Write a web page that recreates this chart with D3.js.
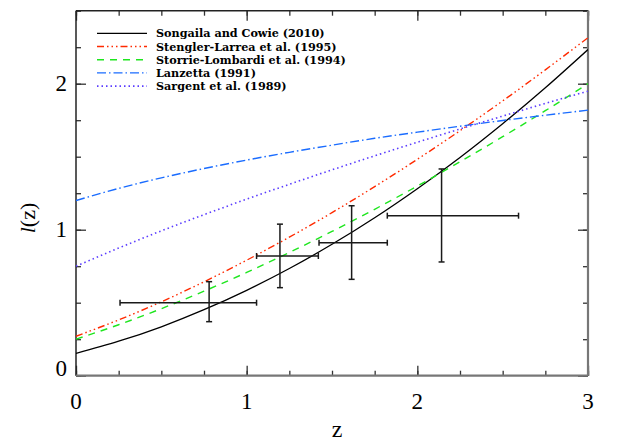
<!DOCTYPE html>
<html>
<head>
<meta charset="utf-8">
<script src="https://cdn.jsdelivr.net/npm/d3@7"></script>
<style>
  body { margin: 0; background: #fff; }
  svg { display: block; }
</style>
</head>
<body>
<script>
var zGrid = [0, 0.25, 0.5, 0.75, 1, 1.25, 1.5, 1.75, 2, 2.25, 2.5, 2.75, 3];

var songaila = [0.153, 0.236, 0.335, 0.452, 0.585, 0.734, 0.900, 1.082, 1.281, 1.495, 1.726, 1.972, 2.234];
var stengler = [0.270, 0.382, 0.506, 0.643, 0.791, 0.949, 1.117, 1.295, 1.482, 1.678, 1.882, 2.095, 2.315];
var storrie  = [0.250, 0.349, 0.459, 0.579, 0.707, 0.844, 0.988, 1.140, 1.299, 1.465, 1.637, 1.815, 2.000];
var lanzetta = [1.200, 1.283, 1.355, 1.419, 1.477, 1.530, 1.579, 1.626, 1.668, 1.709, 1.748, 1.784, 1.819];
var sargent  = [0.750, 0.874, 0.992, 1.103, 1.209, 1.311, 1.410, 1.506, 1.599, 1.690, 1.778, 1.865, 1.949];

var legendNames = ["Songaila and Cowie (2010)", "Stengler-Larrea et al. (1995)",
  "Storrie-Lombardi et al. (1994)", "Lanzetta (1991)", "Sargent et al. (1989)"];

// binned data points with error bars
var ptZ   = [0.780, 1.195, 1.615, 2.142];
var ptL   = [0.500, 0.820, 0.911, 1.096];
var ptZlo = [0.258, 1.058, 1.424, 1.824];
var ptZhi = [1.058, 1.420, 1.824, 2.593];
var ptLlo = [0.370, 0.603, 0.660, 0.779];
var ptLhi = [0.644, 1.038, 1.164, 1.416];

var xMajor = [0, 1, 2, 3];
var yMajor = [0, 1, 2];

var SERIF = "'Liberation Serif', 'Times New Roman', serif";
var LEGFONT = "'DejaVu Serif', 'Liberation Serif', serif";

var width = 618, height = 441;
var svg = d3.select("body").append("svg")
  .attr("width", width)
  .attr("height", height);

var x = d3.scaleLinear().domain([0, 3]).range([76, 588]);
var y = d3.scaleLinear().domain([0, 2.5]).range([375.7, 10.7]);

var minorX = d3.range(0, 3.001, 0.25);
var minorY = d3.range(0, 2.501, 0.25);

// ticks (inward on all four sides)
function tickAxis(axis, vals, size, tr) {
  var g = svg.append("g").attr("transform", tr)
    .call(axis.tickValues(vals).tickSize(size).tickFormat(""));
  g.select(".domain").remove();
  g.selectAll("line").attr("stroke", "#333").attr("stroke-width", 1.3);
}
tickAxis(d3.axisBottom(x), minorX, -5, "translate(0," + y(0) + ")");
tickAxis(d3.axisBottom(x), xMajor, -10, "translate(0," + y(0) + ")");
tickAxis(d3.axisTop(x), minorX, -5, "translate(0," + y(2.5) + ")");
tickAxis(d3.axisTop(x), xMajor, -10, "translate(0," + y(2.5) + ")");
tickAxis(d3.axisLeft(y), minorY, -5, "translate(" + x(0) + ",0)");
tickAxis(d3.axisLeft(y), yMajor, -10, "translate(" + x(0) + ",0)");
tickAxis(d3.axisRight(y), minorY, -5, "translate(" + x(3) + ",0)");
tickAxis(d3.axisRight(y), yMajor, -10, "translate(" + x(3) + ",0)");

// frame
svg.append("line").attr("x1", x(0)).attr("x2", x(3)).attr("y1", y(2.5)).attr("y2", y(2.5))
  .attr("stroke", "#222").attr("stroke-width", 1.5);
svg.append("line").attr("x1", x(0)).attr("x2", x(0)).attr("y1", y(2.5)).attr("y2", y(0))
  .attr("stroke", "#222").attr("stroke-width", 1.5);
svg.append("line").attr("x1", x(0)).attr("x2", x(3)).attr("y1", y(0)).attr("y2", y(0))
  .attr("stroke", "#777").attr("stroke-width", 2.2);
svg.append("line").attr("x1", x(3)).attr("x2", x(3)).attr("y1", y(2.5)).attr("y2", y(0))
  .attr("stroke", "#777").attr("stroke-width", 2.2);

// tick labels
svg.selectAll(".xl").data(xMajor).enter().append("text")
  .style("font-family", SERIF)
  .attr("x", function(d) { return x(d); })
  .attr("y", 409)
  .attr("text-anchor", "middle")
  .attr("font-size", 23)
  .text(function(d) { return d; });

svg.selectAll(".yl").data(yMajor).enter().append("text")
  .style("font-family", SERIF)
  .attr("x", 67)
  .attr("y", function(d) { return d === 0 ? y(d) : y(d) + 7.5; })
  .attr("text-anchor", "end")
  .attr("font-size", 23)
  .text(function(d) { return d; });

// axis titles
svg.append("text")
  .style("font-family", SERIF)
  .attr("x", 337).attr("y", 437)
  .attr("text-anchor", "middle")
  .attr("font-size", 24)
  .text("z");

var yt = svg.append("text")
  .style("font-family", SERIF)
  .attr("transform", "translate(35,218) rotate(-90)")
  .attr("text-anchor", "middle")
  .attr("font-size", 22);
yt.append("tspan").attr("font-style", "italic").text("l");
yt.append("tspan").text("(z)");

// model curves
var series = [
  { vals: songaila, color: "#000000", dash: null, w: 1.3 },
  { vals: stengler, color: "#ff2a00", dash: "7,3,1.5,3,1.5,3,1.5,3", w: 1.4 },
  { vals: storrie,  color: "#1ee61e", dash: "7,6", w: 1.4 },
  { vals: lanzetta, color: "#1a6cff", dash: "9,3,1.5,3", w: 1.4 },
  { vals: sargent,  color: "#5a3cff", dash: "1.5,3", w: 1.6 }
];

var line = d3.line()
  .x(function(d, i) { return x(zGrid[i]); })
  .y(function(d) { return y(d); })
  .curve(d3.curveNatural);

svg.append("defs").append("clipPath").attr("id", "clip")
  .append("rect").attr("x", x(0)).attr("y", y(2.5))
  .attr("width", x(3) - x(0)).attr("height", y(0) - y(2.5));

svg.append("g").attr("clip-path", "url(#clip)")
  .selectAll("path").data(series).enter().append("path")
  .attr("d", function(s) { return line(s.vals); })
  .attr("fill", "none")
  .attr("stroke", function(s) { return s.color; })
  .attr("stroke-width", function(s) { return s.w; })
  .attr("stroke-dasharray", function(s) { return s.dash; });

// error bars
var eb = svg.append("g").attr("stroke", "#1a1a1a").attr("stroke-width", 1.5);
var cap = 3;
ptZ.forEach(function(z, i) {
  eb.append("line").attr("x1", x(ptZlo[i])).attr("x2", x(ptZhi[i]))
    .attr("y1", y(ptL[i])).attr("y2", y(ptL[i]));
  eb.append("line").attr("x1", x(z)).attr("x2", x(z))
    .attr("y1", y(ptLlo[i])).attr("y2", y(ptLhi[i]));
  [ptZlo[i], ptZhi[i]].forEach(function(v) {
    eb.append("line").attr("x1", x(v)).attr("x2", x(v))
      .attr("y1", y(ptL[i]) - cap).attr("y2", y(ptL[i]) + cap);
  });
  [ptLlo[i], ptLhi[i]].forEach(function(v) {
    eb.append("line").attr("x1", x(z) - cap).attr("x2", x(z) + cap)
      .attr("y1", y(v)).attr("y2", y(v));
  });
});

// legend
var leg = svg.append("g");
series.forEach(function(s, i) {
  var ly = 33.3 + i * 13.2;
  leg.append("line").attr("x1", 97).attr("x2", 147)
    .attr("y1", ly).attr("y2", ly)
    .attr("stroke", s.color)
    .attr("stroke-width", s.w)
    .attr("stroke-dasharray", s.dash);
  leg.append("text")
    .style("font-family", LEGFONT)
    .attr("font-weight", "bold")
    .attr("x", 156).attr("y", ly + 4)
    .attr("font-size", 11.2)
    .text(legendNames[i]);
});
</script>
</body>
</html>
